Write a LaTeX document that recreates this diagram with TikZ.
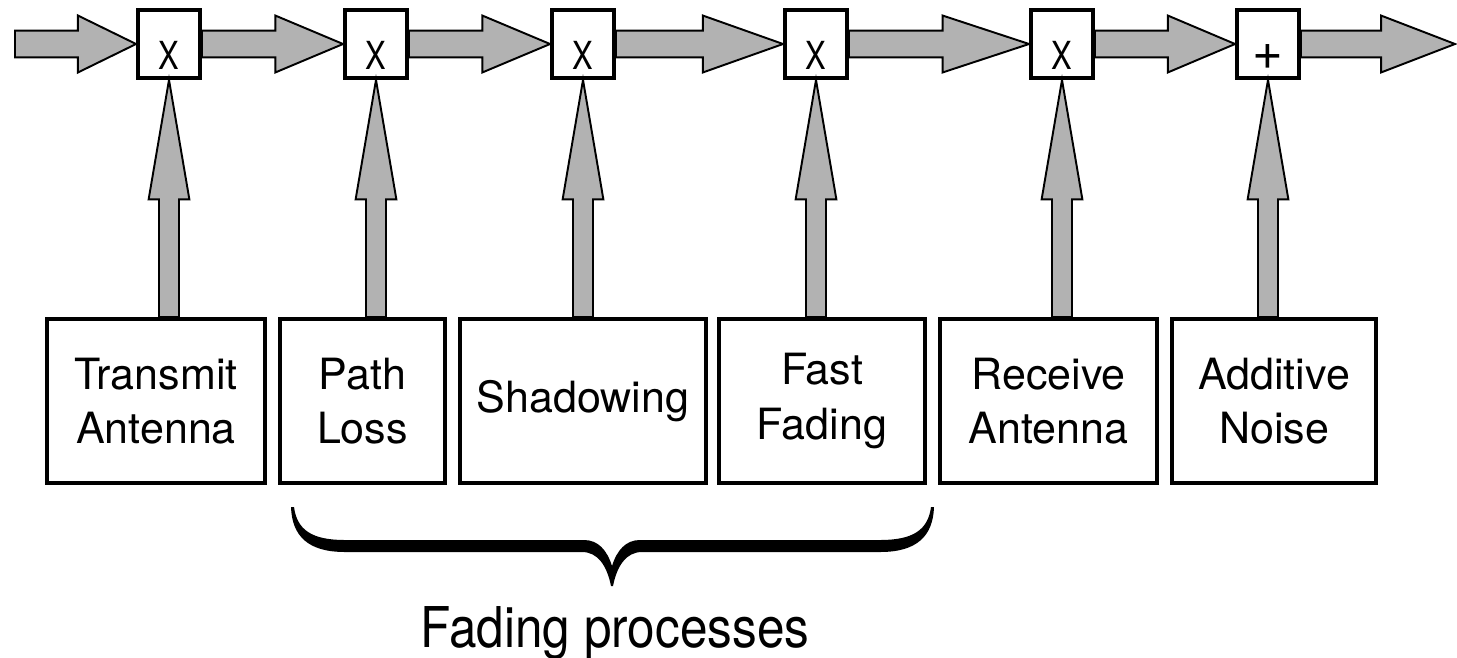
\documentclass[tikz,border=0pt]{standalone}
\usepackage{fontspec}
\setmainfont{TeX Gyre Heros}
\usepackage{tikz}
\usetikzlibrary{calc}

\definecolor{arrowgray}{gray}{0.7}

\newcommand{\mulsign}{\scalebox{0.8}[1]{\fontsize{22}{24}\selectfont X}}
\newcommand{\addsign}{{\fontsize{30}{30}\selectfont +}}

\tikzset{
    mixbox/.style={draw, line width=2.2pt, fill=white, minimum width=1.24cm, minimum height=1.36cm,
        inner sep=0pt, text height=29.5pt, text depth=0pt},
    blockbox/.style={draw, line width=2.2pt, fill=white, minimum height=3.28cm, align=center,
        inner sep=0pt, font=\fontsize{24.5}{31}\selectfont},
    fatarrow/.style={draw=black, fill=arrowgray, line width=1.1pt, line join=miter}
}

% fat horizontal arrow: start, tip
\newcommand{\hfat}[2]{%
    \draw[fatarrow] let \p1=(#1), \p2=(#2), \p3=($(#1)!0.52!(#2)$) in
        (\x1,\y2+7.6pt) -- (\x3,\y2+7.6pt) -- (\x3,\y2+16.2pt) -- (\x2,\y2)
        -- (\x3,\y2-16.2pt) -- (\x3,\y2-7.6pt) -- (\x1,\y2-7.6pt) -- cycle;
}
% fat vertical arrow: start, tip
\newcommand{\vfat}[2]{%
    \draw[fatarrow] let \p1=(#1), \p2=(#2) in
        (\x2-5.7pt,\y1) -- (\x2-5.7pt,\y2-68pt) -- (\x2-11.6pt,\y2-68pt) -- (\x2,\y2)
        -- (\x2+11.6pt,\y2-68pt) -- (\x2+5.7pt,\y2-68pt) -- (\x2+5.7pt,\y1) -- cycle;
}

\begin{document}
\begin{tikzpicture}[x=0.02cm,y=-0.02cm]
    \useasboundingbox (0,0) rectangle (1457,657);

    % Mixers on the signal line:
    \foreach \i/\xpos/\s in {1/169/\mulsign,2/376/\mulsign,3/583/\mulsign,4/816/\mulsign,5/1062/\mulsign,6/1268/\addsign}{%
        \node[mixbox] (m\i) at (\xpos,44) {\s};
    }
    \coordinate (in)  at (15,44);
    \coordinate (out) at (1455,44);

    % Blocks below:
    \node[blockbox, minimum width=4.36cm] (b1) at (156,401)    {Transmit\\Antenna};
    \node[blockbox, minimum width=3.30cm] (b2) at (362.5,401)  {Path\\Loss};
    \node[blockbox, minimum width=4.92cm] (b3) at (583,401)    {Shadowing};
    \node[blockbox, minimum width=4.12cm] (b4) at (822,401)    {Fast\\Fading};
    \node[blockbox, minimum width=4.34cm] (b5) at (1048.5,401) {Receive\\Antenna};
    \node[blockbox, minimum width=4.08cm] (b6) at (1274,401)   {Additive\\Noise};

    % Signal line:
    \hfat{in}{m1.west}
    \foreach \a/\b in {m1/m2,m2/m3,m3/m4,m4/m5,m5/m6}{%
        \hfat{\a.east}{\b.west}
    }
    \hfat{m6.east}{out}

    % Blocks into the mixers:
    \foreach \i in {1,...,6}{%
        \vfat{m\i.south |- b\i.north}{m\i.south}
    }

    % Brace under the fading blocks:
    \fill (291,507) .. controls (292,536) and (308,552) .. (345,552)
        -- (582,552) .. controls (598,552) and (607,566) .. (611,586)
        -- (613,586) .. controls (617,566) and (626,552) .. (642,552)
        -- (880,552) .. controls (917,552) and (933,536) .. (934,507)
        -- (931,507) .. controls (928,530) and (913,540) .. (880,540)
        -- (640,540) .. controls (626,540) and (617,550) .. (612,566)
        .. controls (607,550) and (598,540) .. (584,540)
        -- (345,540) .. controls (312,540) and (297,530) .. (294,507) -- cycle;
    \node[anchor=base, inner sep=0pt, font=\fontsize{32}{38}\selectfont] (fp) at (615,647)
        {\scalebox{0.88}[1]{Fading processes}};
\end{tikzpicture}
\end{document}
